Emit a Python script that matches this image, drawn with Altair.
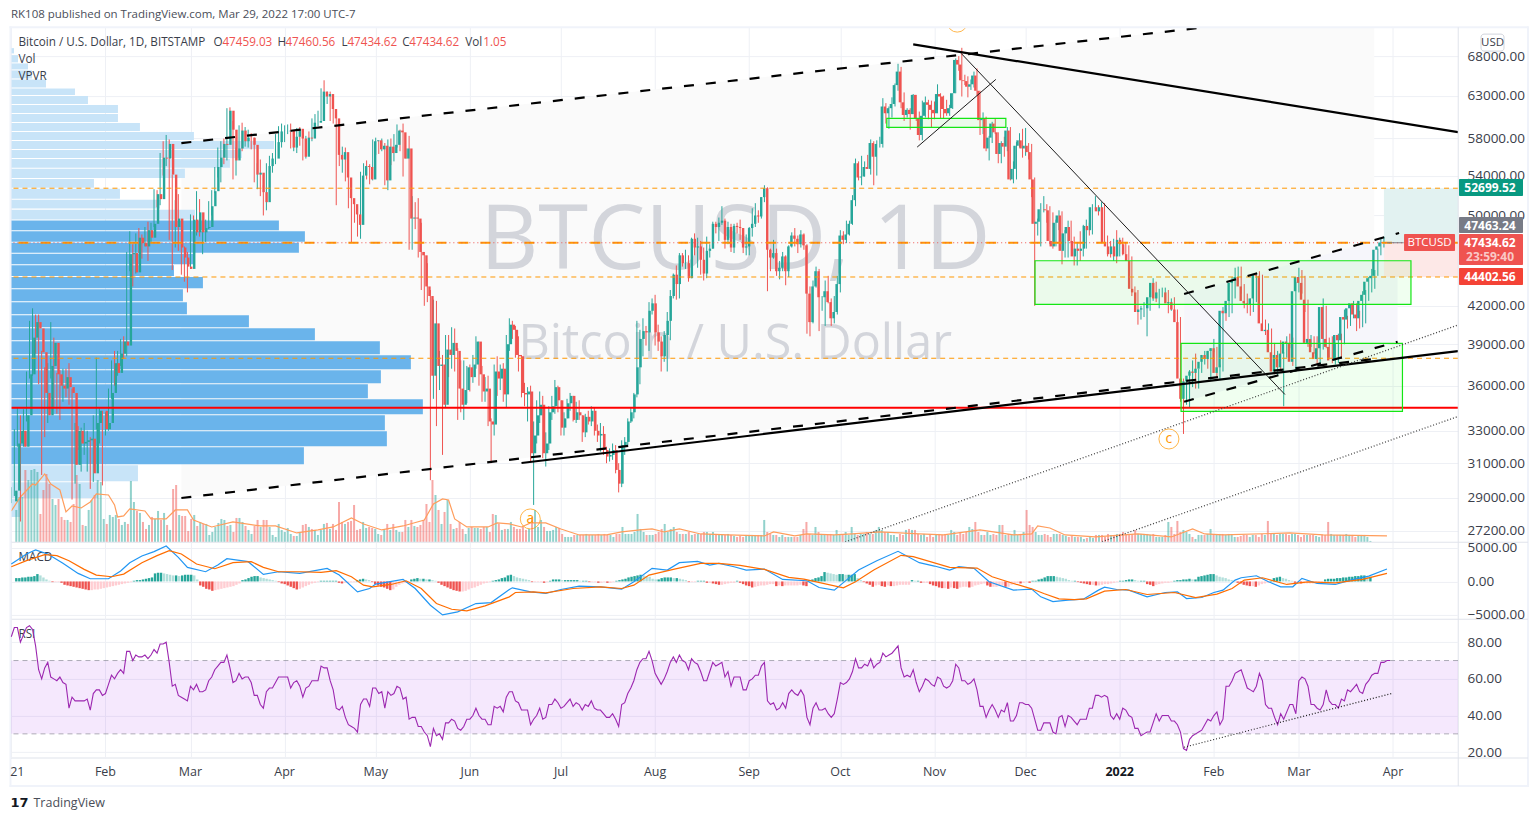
import altair as alt
import pandas as pd
FONT = "Open Sans"
# ---------- daily candles, in hundreds of dollars, one row per month ----------
closes_m = [
[294,322,330,320,340,368,395,407,402,384,355,340,374,391,368,360,358,366,359,355,309,330,322,323,324,325,304,335,343,343,331],
[335,355,376,369,383,392,389,464,465,448,479,474,471,486,479,492,521,516,559,558,574,541,489,497,470,461,453,451],
[496,484,503,484,488,489,509,524,549,559,574,573,612,590,556,569,589,577,581,581,573,541,543,523,513,550,558,558,576,588,588],
[588,589,570,582,591,580,560,581,580,598,598,600,635,629,632,614,603,562,557,565,538,517,511,501,491,540,550,549,536,577],
[578,568,572,535,571,564,573,589,587,558,569,497,498,497,466,463,436,428,367,406,374,375,347,386,382,391,385,358,347,357,373],
[366,375,392,368,356,358,336,334,370,365,372,354,390,405,401,382,381,355,354,356,316,327,340,347,316,322,342,346,359,350],
[332,338,348,353,337,342,340,329,339,336,343,330,327,328,318,314,315,318,306,298,321,323,336,342,354,373,394,400,399,416,422],
[399,392,381,397,408,428,446,438,463,456,456,443,478,470,471,459,447,467,469,492,489,493,495,477,489,470,490,489,488,470,471],
[488,492,500,499,518,527,468,461,465,449,452,462,449,471,481,478,473,482,472,430,407,436,449,427,427,432,423,410,415,438],
[481,477,482,492,515,553,538,539,549,547,575,560,574,574,617,609,615,620,643,660,622,607,613,608,631,603,584,606,622,619,613],
[609,632,629,614,609,615,633,675,669,649,648,641,644,655,636,601,603,569,581,597,587,563,575,571,589,536,547,572,578,569],
[572,565,536,492,494,506,506,505,476,471,493,500,467,483,489,476,462,469,467,469,490,486,508,508,504,508,475,471,464,471,462],
[477,473,464,458,434,431,415,417,418,418,427,439,426,431,431,431,422,423,417,407,365,351,363,367,370,369,372,377,382,379,385],
[387,369,373,416,414,424,439,441,444,436,424,422,421,426,446,445,406,400,401,384,370,382,373,383,392,391,377,432],
[444,439,425,391,394,384,379,387,419,394,388,378,378,397,393,411,409,418,422,413,410,424,429,440,443,445,468,471,474.59,474.35],
]
highs_m = [
[296,331,345,340,344,370,408,418,413,413,385,373,376,407,395,369,371,372,372,376,358,335,333,332,335,330,326,340,380,345,342],
[342,358,378,385,385,394,396,466,485,473,483,488,482,489,494,493,526,525,564,577,584,579,541,515,521,483,471,466],
[501,500,524,516,495,496,514,525,549,570,577,580,615,616,600,570,595,598,593,590,586,581,553,557,530,553,561,564,585,594,597],
[595,596,597,585,592,593,585,583,588,603,608,612,639,649,635,635,625,611,574,571,570,558,523,512,509,544,553,556,552,579],
[581,577,580,575,579,580,585,596,590,597,569,583,519,513,517,493,466,456,433,425,424,385,382,397,397,403,402,387,378,378,374],
[375,382,396,392,374,366,367,338,375,381,375,376,397,410,408,404,396,382,362,359,360,336,350,356,353,329,346,353,364,360],
[350,342,351,355,353,349,350,339,341,343,346,345,334,335,333,320,319,322,321,310,324,326,338,345,355,408,401,410,404,423,426],
[429,405,396,400,415,433,447,454,465,465,468,463,479,483,479,476,470,480,473,494,494,498,509,497,494,492,492,493,496,488,482],
[489,507,512,505,518,530,528,469,477,469,458,466,463,472,484,488,481,486,483,473,436,441,453,451,428,441,445,426,428,445],
[486,485,495,495,520,558,555,561,555,562,579,577,578,582,627,621,617,628,645,670,666,634,615,615,632,630,611,624,629,625,624],
[623,644,633,630,625,619,633,677,680,691,656,654,650,660,664,635,610,605,583,599,603,587,577,582,593,593,555,576,586,591],
[592,575,574,538,497,512,519,511,509,503,496,505,504,486,495,495,480,474,485,491,496,493,511,519,510,513,512,481,476,478,486],
[479,479,475,472,462,436,433,420,423,422,431,443,440,434,435,435,433,426,427,413,411,365,365,371,378,383,372,378,385,385,387],
[394,388,375,419,418,425,444,452,453,453,438,430,426,432,447,449,446,409,406,402,391,385,393,384,396,398,395,440],
[452,450,445,423,397,396,396,391,426,420,395,396,391,398,398,417,412,421,424,422,416,432,433,444,451,450,469,478,480,474.6],
]
lows_m = [
[287,291,320,277,330,336,365,367,383,361,303,326,335,365,345,341,337,349,352,347,289,298,318,305,315,305,295,299,331,322,297],
[327,330,351,360,367,374,379,381,449,436,447,465,460,475,458,474,489,508,510,540,550,477,450,470,467,446,440,431],
[451,471,481,480,464,475,487,500,522,538,533,552,556,590,536,540,559,566,571,570,568,533,526,519,500,505,542,543,552,574,570],
[576,585,569,566,564,572,556,558,574,577,590,594,600,615,620,600,597,510,550,543,534,507,474,493,480,478,534,536,531,535],
[562,563,566,530,525,551,555,570,566,539,559,468,468,487,461,433,420,423,300,351,333,357,315,345,366,372,370,337,342,337,348],
[356,362,372,360,349,349,333,310,327,353,357,349,345,385,394,380,370,352,346,336,311,286,322,335,313,308,318,337,341,342],
[327,327,338,343,336,335,337,323,326,334,333,327,323,317,315,310,311,312,304,293,296,315,321,335,338,352,361,381,389,385,413],
[389,385,370,377,370,393,426,425,426,453,451,440,443,463,452,446,441,443,461,469,483,476,491,469,473,466,465,483,477,465,463],
[463,480,489,493,497,513,432,449,460,445,442,449,437,444,470,471,465,470,468,398,396,406,435,400,416,404,422,404,406,413],
[431,473,474,481,491,509,535,530,539,547,541,530,540,570,570,597,591,604,617,636,615,600,604,590,608,600,578,578,604,602,592],
[602,612,603,603,606,606,614,633,661,629,643,628,637,640,630,584,585,566,556,575,585,553,553,560,566,535,532,536,570,559],
[561,557,518,420,481,471,503,493,473,469,472,486,455,461,461,474,454,454,458,462,469,481,482,506,500,500,472,462,461,458,456],
[462,463,459,454,428,422,405,409,411,396,416,424,423,418,427,426,414,416,411,385,349,328,347,345,359,358,358,369,375,372,364],
[384,366,364,370,408,411,414,426,438,430,418,414,412,415,423,437,402,397,397,380,368,367,370,346,380,387,374,370],
[431,430,415,388,388,383,375,375,386,387,380,376,375,376,379,390,402,404,410,400,402,403,406,424,431,434,445,463,470,474.3],
]
first_open = 288
volumes = [32,45,45,72,62,72,73,70,28,52,68,58,43,37,43,25,22,22,20,38,67,58,17,16,32,42,47,62,60,23,18,27,25,27,23,17,20,18,61,40,31,29,20,13,17,25,23,31,22,29,17,12,53,57,27,26,26,11,23,27,16,20,18,18,7,10,15,19,23,22,16,17,10,24,24,20,16,12,8,16,22,15,22,22,15,7,5,18,12,10,14,8,6,6,10,17,18,15,13,12,7,12,18,19,13,18,12,40,20,18,20,21,37,12,13,20,14,15,14,13,8,7,12,18,12,18,12,10,10,22,15,22,16,15,17,22,38,20,62,47,32,18,30,42,18,13,14,20,13,8,14,15,14,14,13,15,15,10,28,27,18,12,13,13,20,
15,13,13,15,12,13,25,32,15,22,15,11,11,12,15,14,8,5,5,5,7,7,7,7,8,7,7,7,8,7,8,7,7,5,8,8,15,8,8,8,10,28,13,10,7,7,7,8,10,13,18,10,13,15,10,8,8,8,10,7,8,8,8,10,10,8,10,8,7,7,7,8,7,6,5,6,5,7,7,7,7,7,7,22,10,8,7,7,5,7,5,5,5,5,5,7,13,20,8,7,15,10,8,7,7,8,7,12,8,7,10,7,15,8,7,8,8,10,8,8,12,15,12,10,10,7,7,5,8,7,12,13,12,12,8,7,8,5,8,5,7,8,7,8,7,12,10,7,10,8,10,15,13,20,10,7,7,10,7,8,7,17,
17,7,8,7,12,7,8,10,32,17,15,10,7,7,8,7,5,8,8,8,7,6,5,6,5,5,5,3,4,5,4,7,7,7,5,8,7,7,8,8,10,8,8,8,12,8,8,8,8,7,8,5,5,5,7,20,15,8,21,10,12,10,8,5,3,7,7,7,8,13,7,7,8,8,7,8,7,5,5,6,7,7,5,7,7,5,8,7,21,8,8,7,8,8,8,7,8,8,7,5,7,7,7,7,6,5,7,7,20,8,7,7,7,7,8,7,7,5,6,7,7,5,1]
volma_days = [0,3,7,8,11,13,16,18,20,23,26,28,32,34,35,37,39,44,46,51,54,58,60,66,73,82,87,94,101,106,112,116,122,129,136,139,142,144,146,150,157,160,164,168,171,176,181,187,196,201,207,211,215,220,227,236,248,251,258,262,271,277,286,299,307,319,330,336,338,342,347,357,371,382,389,393,399,421,432,453]
volma_vals = [31,45,58,57,68,58,52,30,36,34,40,48,47,37,25,26,33,31,23,23,32,32,22,15,20,16,16,9,12,15,24,18,12,16,22,38,43,42,23,15,15,19,18,15,19,19,13,7,7,10,12,13,10,13,8,7,6,10,6,8,7,8,10,8,7,12,7,8,16,14,7,5,8,5,13,8,7,9,7,6]
# ---------- volume profile: band edges (dollars) and length ----------
vp_hi = [69058,68131,67049,66150,65011,63893,62950,61867,60803,59757,58733,57722,56729,55755,54721,53644,52655,51550,50566,49510,48491,47445,46450,45414,44400,43360,42288,41242,40220,39225,38181,37093,36103,35072,34005,32971,31970,30880,29884,28925]
vp_lo = [68355,67179,66277,65136,64015,63072,61986,60920,59872,58846,57833,56838,55861,54825,53748,52755,51650,50666,49605,48585,47535,46538,45500,44484,43442,42370,41322,40298,39302,38253,37164,36172,35140,34072,33034,32030,30940,29942,28980,27945]
vp_len = [3,7,17,21,35,64,77,107,107,129,183,263,231,219,174,83,109,149,184,268,294,288,183,163,192,172,176,238,304,369,400,370,357,412,374,376,293,127,87,9]
vp_value_area = [0]*19 + [1]*18 + [0]*3
# ---------- MACD ----------
macd_d = [0,5,8,12,17,22,26,32,36,39,43,47,51,55,58,64,68,71,78,83,88,95,104,108,114,118,120,129,133,138,142,147,153,158,164,165,171,176,181,187,194,201,205,211,216,220,226,230,233,238,242,248,254,262,266,271,275,279,285,292,299,304,309,312,317,322,330,336,339,343,348,353,358,360,364,368,374,380,384,387,392,396,399,403,405,410,414,418,422,425,430,436,441,447,453]
macd_v = [2600,4100,4700,4100,2700,1200,400,400,1550,2800,3800,4450,5300,3600,2100,1450,2450,3400,2950,1050,1450,1200,1950,950,-1550,-1050,-400,300,-1050,-3550,-5000,-4550,-3300,-3150,-1200,-950,-1550,-1800,-1200,-700,-800,-1150,-50,1950,1700,2800,3000,2450,2700,2200,1700,1850,300,100,-900,-1300,200,1700,3100,4500,2800,2300,1700,2200,1950,-50,-1300,-1150,-2300,-3000,-2800,-2650,-1300,-850,-1200,-1300,-2300,-1650,-1550,-2550,-2400,-1650,-1300,200,550,850,-50,-800,-800,450,-300,-450,200,800,1850]
signal_d = [0,5,11,15,19,24,28,33,37,43,48,52,56,61,67,73,79,83,88,95,102,107,112,116,119,125,130,135,140,145,150,156,164,166,172,176,185,194,201,205,210,218,227,233,240,248,256,261,274,278,284,293,297,309,318,323,330,336,340,345,350,354,360,367,374,383,390,397,402,406,412,420,427,436,445,453]
signal_v = [2200,3100,4000,3850,3100,1800,950,700,1100,2800,3850,4600,4100,2600,1900,2800,2950,2100,1450,1450,1350,1600,700,-550,-800,-450,100,-1050,-3300,-4150,-4400,-3650,-2300,-1650,-1550,-1700,-1050,-800,-1050,-550,950,1800,2700,2700,2400,1800,600,350,-950,-50,1700,3900,3700,2100,2000,700,-300,-1100,-1800,-2600,-2700,-2600,-1450,-1200,-1950,-1650,-2400,-1900,-1050,200,550,-450,-50,-200,300,1200]
hist_h = [5,5,6,6,7,7,8,11,9,6,3,1,-1,-1,-1,-2,-5,-6,-7,-8,-9,-10,-11,-12,-13,-13,-12,-12,-11,-10,-9,-8,-7,-6,-5,-4,-3,-2,-1,1,2,2,3,4,5,6,12,13,13,12,11,10,9,9,8,9,10,10,10,9,3,-6,-8,-11,-12,-14,-13,-12,-11,-10,-9,-8,-7,-5,-3,2,3,5,7,8,8,6,5,4,3,2,1,-1,-3,-4,-6,-8,-10,-12,-11,-9,-7,-5,-3,-2,-1,1,1,1,1,1,1,-2,-3,-2,-2,-1,-1,2,3,4,3,2,-1,-4,-6,-8,-9,-11,-13,-12,-8,-5,-3,-2,-2,3,4,5,4,4,3,3,2,1,
-2,-5,-7,-9,-11,-13,-14,-15,-15,-14,-12,-10,-9,-7,-5,-3,-2,-1,1,2,3,5,6,9,10,8,6,5,4,3,2,-1,-1,-1,-1,-2,-1,1,3,3,3,2,2,2,2,2,2,1,1,1,-1,-1,-1,-2,-2,-1,-2,-2,-1,1,2,3,4,6,7,8,9,10,9,8,7,4,3,3,5,6,6,6,5,5,4,3,2,-1,-1,-1,1,1,1,-2,-2,-3,-4,-5,-5,-4,-3,-2,-2,1,-2,-4,-6,-7,-9,-8,-7,-6,-6,-5,-4,-4,-7,-6,-7,-6,-6,-6,-6,-6,-5,-6,-7,2,3,5,6,8,14,13,12,11,10,11,11,10,10,10,11,5,2,-1,-3,-5,-8,-6,-5,-7,-8,-6,-7,-7,-6,-5,-5,-5,-5,2,1,1,-2,-2,-2,-4,-6,-7,-9,-10,-10,-11,-9,-10,-11,-9,-8,
-8,-9,-8,-6,-5,-4,-3,-6,-8,-8,-8,-7,-6,-8,-8,-5,-4,-2,-3,-2,-1,-2,1,1,3,4,6,8,8,8,7,6,5,4,2,1,1,-1,-2,-3,-4,-5,-5,-6,-6,-5,-4,-4,-3,-2,-1,1,1,2,3,3,2,1,1,1,-4,-5,-7,-5,-4,-3,-2,-2,-1,1,2,2,3,3,4,3,3,7,8,9,10,11,11,9,7,6,5,3,2,1,-2,-3,-5,-6,-7,-7,-8,-6,-4,-3,-2,1,5,6,7,5,4,2,1,-2,-2,-3,-3,-3,-3,-3,-2,-2,-1,3,4,4,4,5,5,6,6,7,7,8,8,9,9,7,7]
# ---------- RSI ----------
rsi = [83,88,88,80,84,88,89,87,78,65,60,66,69,61,60,59,61,58,57,44,50,48,48,48,48,49,43,52,54,54,51,52,57,62,60,63,65,63,75,75,70,73,72,72,73,71,73,76,74,79,79,80,69,56,57,51,50,49,48,56,54,57,53,53,54,59,61,65,67,69,69,73,66,58,59,63,60,61,61,58,51,51,46,44,53,55,55,58,61,61,61,61,55,58,59,56,50,55,56,59,59,59,67,66,66,59,54,44,43,45,39,35,34,33,31,46,49,49,45,55,55,52,53,44,53,51,52,56,55,49,50,38,39,39,34,34,31,29,23,33,29,30,27,36,36,38,37,33,32,34,38,38,40,44,40,38,38,35,35,45,44,45,42,50,53,
53,48,47,43,43,43,35,38,40,44,38,39,46,46,49,47,44,45,47,49,45,47,46,43,46,45,48,44,43,43,41,39,39,41,38,34,46,47,52,55,59,65,69,71,71,75,70,63,60,57,60,64,69,72,69,73,70,69,65,71,69,68,64,59,59,64,69,67,68,69,61,64,56,61,61,61,54,54,59,60,62,62,67,69,48,46,47,43,44,47,44,52,54,52,51,54,51,39,35,44,47,43,43,44,41,39,41,49,58,57,58,60,64,71,66,66,68,67,71,66,68,69,74,72,73,74,76,78,66,61,62,61,65,58,53,56,60,59,57,56,61,60,56,55,56,59,68,66,59,59,57,58,60,54,45,45,39,43,46,43,39,43,42,47,37,
37,40,47,47,46,46,44,38,32,32,36,36,36,31,30,39,40,34,40,39,37,35,38,38,38,44,44,51,51,50,51,50,40,38,41,38,44,43,40,39,33,33,29,30,31,31,36,41,37,40,40,40,37,37,35,31,22,21,27,29,30,31,32,35,38,37,40,42,35,38,56,56,59,63,64,65,60,55,54,53,56,63,59,46,44,44,39,35,41,38,42,46,46,41,59,61,60,56,46,46,44,43,46,54,48,46,46,44,49,48,54,53,55,57,53,52,57,59,62,63,63,69,69,70,70]
# ---------- axes ----------
month_ticks = [0,31,59,90,120,151,181,212,243,273,304,334,365,396,424,455]
month_labels = ["21","Feb","Mar","Apr","May","Jun","Jul","Aug","Sep","Oct","Nov","Dec","2022","Feb","Mar","Apr"]
price_ticks = [27200,29000,31000,33000,36000,39000,42000,46000,50000,54000,58000,63000,68000]
macd_ticks = [-5000,0,5000]
rsi_ticks = [20,40,60,80]
# ---------- price levels ----------
thin_levels = [52699.52,44402.56,37958]
last_price = 47434.62
support = 34505
# ---------- drawings: (day, price) end points ----------
dashed_lines = [(56.0,57492,390.5,71775),(56.0,28987,448.8,37905),(386.2,34906,456.5,39190),(386.2,42970,457.0,48334)]
thick_lines = [(168.0,31013,476.4,38489),(297.0,69552,476.4,58726)]
thin_lines = [(312.8,68355,419.4,35394),(298.3,57052,324.2,65011)]
dotted_lines = [(274.6,26628,476.4,40474),(359.2,26642,476.4,33924)]
green_boxes = [(288.3,327.5,60300,59262),(337.1,460.9,45817,42119),(385.2,458.1,39063,34265)]
wave_marks = [(170.9,27838,"a"),(381.2,32483,"c"),(311.5,72610,"b")]

# ---------- tables ----------
rows = []
for m,(c,h,l) in enumerate(zip(closes_m,highs_m,lows_m)):
    assert len(c)==len(h)==len(l), (m,len(c),len(h),len(l))
    for a,b,e in zip(c,h,l):
        rows.append((a,b,e))
candles = pd.DataFrame(rows,columns=["c","h","l"])*100
candles["d"] = range(len(candles))
candles["o"] = candles["c"].shift(1).fillna(first_open*100)
candles["h"] = candles[["h","o","c"]].max(axis=1)
candles["l"] = candles[["l","o","c"]].min(axis=1)
UP,DN = "#26a69a","#ef5350"
candles["col"] = [UP if c>=o else DN for c,o in zip(candles.c,candles.o)]
vol = pd.DataFrame({"v":volumes[:len(candles)]})
vol["d"] = range(len(vol)); vol["col"] = candles["col"][:len(vol)].values
volma = pd.DataFrame({"d":volma_days,"v":volma_vals})
vp = pd.DataFrame({"hi":vp_hi,"lo":vp_lo,"x0":0,"len":vp_len,
                   "col":["#62b0ea" if a else "#c5e3f8" for a in vp_value_area]})
hist = pd.DataFrame({"v":[h*100 for h in hist_h]}); hist["d"]=range(len(hist))
prev = hist.v.shift(1).fillna(0)
hist["col"] = ["#26a69a" if v>=0 and v>=p else "#b2dfdb" if v>=0 else "#ef5350" if v<p else "#ffcdd2" for v,p in zip(hist.v,prev)]
hist["z"]=0
rsi_df = pd.DataFrame({"d":range(len(rsi)),"v":rsi})
def seg_df(segs):
    return pd.DataFrame([{"s":i,"d":a,"p":b} for i,(x1,y1,x2,y2) in enumerate(segs) for a,b in ((x1,y1),(x2,y2))])

# ---------- scales ----------
W = 1447.5
X_DOM = [-0.1,476.4]
XS = alt.Scale(domain=X_DOM,nice=False,zero=False)
PS = alt.Scale(type="log",domain=[26629,71912],nice=False)
def X(f): return alt.X(f,type="quantitative",scale=XS,axis=None)
def P(f): return alt.Y(f,type="quantitative",scale=PS,axis=None)
def PX(f): return alt.X(f,type="quantitative",scale=None,axis=None)
def PY(f): return alt.Y(f,type="quantitative",scale=None,axis=None)
COL = alt.Color("col:N",scale=None,legend=None)
GRID = "#eef0f5"
def grid_x():
    return alt.Axis(values=month_ticks,labels=False,ticks=False,domain=False,title=None,grid=True,gridColor=GRID,gridWidth=1)
def y_axis(vals,expr):
    return alt.Axis(values=vals,orient="right",title=None,ticks=False,domain=False,grid=True,gridColor=GRID,gridWidth=1,
                    labelFont=FONT,labelFontSize=13.5,labelColor="#3a3e4a",labelPadding=9,labelExpr=expr,labelOverlap=False,labelBound=False,labelFlush=False)
F2 = "format(datum.value,'.2f')"

def page_rects(items,ox,oy):
    return pd.DataFrame([{"x":a-ox,"x2":b-ox,"y":c-oy,"y2":d-oy,"col":e} for a,b,c,d,e in items])
def page_texts(items,ox,oy):
    return pd.DataFrame([{"x":a-ox,"y":b-oy,"t":t,"col":c} for a,b,t,c in items])
def rect_layer(df,**kw):
    return alt.Chart(df).mark_rect(**kw).encode(x=PX("x"),x2="x2",y=PY("y"),y2="y2",color=COL)
def text_layer(df,align="left",size=12.5,**kw):
    return alt.Chart(df).mark_text(align=align,baseline="middle",font=FONT,fontSize=size,**kw).encode(x=PX("x"),y=PY("y"),text="t:N",color=COL)

OX = 10.5
# ---------- header ----------
header = text_layer(page_texts([(10.5,15,"RK108 published on TradingView.com, Mar 29, 2022 17:00 UTC-7","#4a4e59")],OX,8),size=11.5).properties(width=W,height=19)

# ---------- main panel ----------
base = alt.Chart(pd.DataFrame({"d":[0],"p":[50000]})).mark_point(opacity=0).encode(
    x=alt.X("d:Q",scale=XS,axis=grid_x()),
    y=alt.Y("p:Q",scale=PS,axis=y_axis(price_ticks,"datum.value==46000?'':"+F2)))
fill1 = alt.Chart(pd.DataFrame({"d":[56.0,448.8],"a":[57492,74620],"b":[28987,37905]})).mark_area(color="#fafafa",clip=True).encode(x=X("d"),y=P("a"),y2="b")
fill2 = alt.Chart(pd.DataFrame({"d":[386.2,456.5],"a":[42970,48200],"b":[34906,39190]})).mark_area(color="#f6f6fb",clip=True).encode(x=X("d"),y=P("a"),y2="b")
pos = pd.DataFrame({"a":[452,452],"b":[476.4,476.4],"hi":[52699.52,last_price],"lo":[last_price,44402.56],"col":["#e2f2f1","#fde8e7"]})
pos_l = alt.Chart(pos).mark_rect().encode(x=X("a"),x2="b",y=P("hi"),y2="lo",color=COL)
wm = pd.DataFrame({"d":[238.4,238.4],"p":[47470,38992],"t":["BTCUSD, 1D","Bitcoin / U.S. Dollar"]})
wm1 = alt.Chart(wm.iloc[[0]]).mark_text(font=FONT,fontSize=90.5,color="#d3d5db",baseline="middle").encode(x=X("d"),y=P("p"),text="t:N")
wm2 = alt.Chart(wm.iloc[[1]]).mark_text(font=FONT,fontSize=48.5,color="#d3d5db",baseline="middle").encode(x=X("d"),y=P("p"),text="t:N")
vp_l = alt.Chart(vp).mark_rect(opacity=0.95).encode(
    x=alt.X("x0:Q",scale=alt.Scale(domain=[0,W],nice=False),axis=None),x2="len",y=P("hi"),y2="lo",color=COL)
VS = alt.Scale(domain=[0,515],nice=False)
vol_l = alt.Chart(vol).mark_bar(size=2,opacity=0.5).encode(x=X("d"),y=alt.Y("v:Q",scale=VS,axis=None),color=COL)
volma_l = alt.Chart(volma).mark_line(color="#ff9d5c",strokeWidth=1.2).encode(x=X("d"),y=alt.Y("v:Q",scale=VS,axis=None))
wick = alt.Chart(candles).mark_rule(strokeWidth=1).encode(x=X("d"),y=P("l"),y2="h",color=COL)
body = alt.Chart(candles).mark_bar(size=2.4).encode(x=X("d"),y=P("o"),y2="c",color=COL)
def lines(segs,**kw):
    return alt.Chart(seg_df(segs)).mark_line(clip=True,**kw).encode(x=X("d"),y=P("p"),detail="s:N")
lvl_thin = alt.Chart(pd.DataFrame({"p":thin_levels})).mark_rule(color="#ff9800",strokeWidth=1,strokeDash=[5,4]).encode(y=P("p"))
lvl_last = alt.Chart(pd.DataFrame({"p":[last_price]})).mark_rule(color="#ff9800",strokeWidth=2,strokeDash=[10,12]).encode(y=P("p"))
lvl_dot = alt.Chart(pd.DataFrame({"p":[last_price]})).mark_rule(color="#ef5350",strokeWidth=1,strokeDash=[1,3]).encode(y=P("p"))
lvl_red = alt.Chart(pd.DataFrame({"p":[support]})).mark_rule(color="#ff0000",strokeWidth=2).encode(y=P("p"))
last_ln = alt.Chart(pd.DataFrame({"a":[453],"b":[458.5],"p":[last_price]})).mark_rule(color="#787b86",strokeWidth=1).encode(x=X("a"),x2="b",y=P("p"))
boxes = alt.Chart(pd.DataFrame(green_boxes,columns=["a","b","hi","lo"])).mark_rect(fill="#00ff00",fillOpacity=0.06,stroke="#14e614",strokeWidth=1.2).encode(x=X("a"),x2="b",y=P("hi"),y2="lo")
wdf = pd.DataFrame(wave_marks,columns=["d","p","t"])
wave_c = alt.Chart(wdf).mark_point(shape="circle",size=400,filled=False,stroke="#ff9800",strokeWidth=1,clip=True).encode(x=X("d"),y=P("p"))
wave_t = alt.Chart(wdf).mark_text(font=FONT,fontSize=14,color="#ff9800",clip=True,baseline="middle").encode(x=X("d"),y=P("p"),text="t:N")

frame = page_rects([
    (9,1528,26,28,"#f0f3fa"),(9,11,26,787,"#f0f3fa"),(1527,1529,26,787,"#f0f3fa"),(9,1529,785,787,"#f0f3fa"),
    (10.5,1528,541.7,542.7,"#e0e3eb"),(10.5,1528,618.7,619.7,"#e0e3eb"),(10.5,1528,757.7,758.7,"#e0e3eb"),(1457.7,1458.7,27,786,"#e0e3eb"),
],OX,27)
tags = page_rects([
    (1459,1523,179,196,"#089981"),(1459,1523,217,233,"#787b86"),(1459,1523,234,265,"#ef5350"),(1459,1523,268,285,"#f44336"),(1404,1455,234,251,"#ef5350")
],OX,27)
usd = pd.DataFrame({"x":[1481-OX],"x2":[1504-OX],"y":[34-27],"y2":[51-27]})
usd_r = alt.Chart(usd).mark_rect(fill="#ffffff",fillOpacity=0.85,stroke="#d1d4dc",cornerRadius=3).encode(x=PX("x"),x2="x2",y=PY("y"),y2="y2")
tag_t = text_layer(page_texts([
    (1490,187.5,"52699.52","#ffffff"),(1490,225.5,"47463.24","#ffffff"),(1490,242.5,"47434.62","#ffffff"),(1490,257,"23:59:40","#f9c9c7"),
    (1490,276.5,"44402.56","#ffffff")],OX,27),align="center",size=12,fontWeight="bold")
tag_n = text_layer(page_texts([(1429.5,242.5,"BTCUSD","#ffffff"),(1492.5,42.5,"USD","#3a3e4a")],OX,27),align="center",size=11.5)
SERIES_TXT = "#3a3e4a"; RED = "#ef5350"
legend_t = text_layer(page_texts([
    (18,42,"Bitcoin / U.S. Dollar, 1D, BITSTAMP",SERIES_TXT),(213,42,"O",SERIES_TXT),(222,42,"47459.03",RED),
    (277,42,"H",SERIES_TXT),(285,42,"47460.56",RED),(341,42,"L",SERIES_TXT),(347,42,"47434.62",RED),
    (402,42,"C",SERIES_TXT),(409,42,"47434.62",RED),(465,42,"Vol",SERIES_TXT),(483,42,"1.05",RED),
    (18,59,"Vol",SERIES_TXT),(18,76,"VPVR",SERIES_TXT),(18,557,"MACD",SERIES_TXT),(18,634,"RSI",SERIES_TXT)],OX,27),size=11.7)

main = alt.layer(base,fill1,fill2,pos_l,wm1,wm2,vp_l,vol_l,volma_l,wick,body,
    lvl_thin,lvl_last,lvl_dot,lvl_red,last_ln,boxes,
    lines(dashed_lines,color="#000000",strokeWidth=2.2,strokeDash=[10,12]),
    lines(thick_lines,color="#000000",strokeWidth=2.2),
    lines(thin_lines,color="#1a1a1a",strokeWidth=1),
    lines(dotted_lines,color="#444444",strokeWidth=1.3,strokeDash=[1,2]),
    wave_c,wave_t,rect_layer(frame),rect_layer(tags,cornerRadius=1),usd_r,tag_t,tag_n,legend_t
).resolve_scale(x="independent",y="independent").properties(width=W,height=515)

# ---------- MACD panel ----------
MS = alt.Scale(domain=[-5597,5896],nice=False,zero=False)
def M(f): return alt.Y(f,type="quantitative",scale=MS,axis=None)
m_base = alt.Chart(pd.DataFrame({"d":[0],"v":[0]})).mark_point(opacity=0).encode(
    x=alt.X("d:Q",scale=XS,axis=grid_x()),y=alt.Y("v:Q",scale=MS,axis=y_axis(macd_ticks,F2)))
m_hist = alt.Chart(hist).mark_bar(size=2.4).encode(x=X("d"),y=M("v"),y2="z",color=COL)
m_line = alt.Chart(pd.DataFrame({"d":macd_d,"v":macd_v})).mark_line(color="#2196f3",strokeWidth=1.2).encode(x=X("d"),y=M("v"))
m_sig = alt.Chart(pd.DataFrame({"d":signal_d,"v":signal_v})).mark_line(color="#ff6d00",strokeWidth=1.2).encode(x=X("d"),y=M("v"))
macd = alt.layer(m_base,m_hist,m_line,m_sig).resolve_scale(x="independent",y="independent").properties(width=W,height=77)

# ---------- RSI panel ----------
RS = alt.Scale(domain=[16.9,92.7],nice=False,zero=False)
def R(f): return alt.Y(f,type="quantitative",scale=RS,axis=None)
r_base = alt.Chart(pd.DataFrame({"d":[0],"v":[50]})).mark_point(opacity=0).encode(
    x=alt.X("d:Q",scale=XS,axis=grid_x()),y=alt.Y("v:Q",scale=RS,axis=y_axis(rsi_ticks,F2)))
r_band = alt.Chart(pd.DataFrame({"a":[70],"b":[30]})).mark_rect(color="#a020f0",opacity=0.1).encode(y=R("a"),y2="b")
r_lim = alt.Chart(pd.DataFrame({"v":[70,30]})).mark_rule(color="#787b86",opacity=0.6,strokeDash=[5,4]).encode(y=R("v"))
r_line = alt.Chart(rsi_df).mark_line(color="#9c27b0",strokeWidth=1.1).encode(x=X("d"),y=R("v"))
r_trend = alt.Chart(pd.DataFrame({"d":[386.2,455.0],"v":[22.7,52.2]})).mark_line(color="#1a1a1a",strokeWidth=1.2,strokeDash=[1,2]).encode(x=X("d"),y=R("v"))
rsi_panel = alt.layer(r_base,r_band,r_lim,r_line,r_trend).resolve_scale(x="independent",y="independent").properties(width=W,height=139)

# ---------- footer: time axis and logo ----------
tl = pd.DataFrame({"d":month_ticks,"t":month_labels})
tl.loc[tl.t=="21","d"] = 2.0
tl["y"] = 14
tl_n = alt.Chart(tl[tl.t!="2022"]).mark_text(font=FONT,fontSize=12.5,color="#3a3e4a",baseline="middle").encode(x=X("d"),y=PY("y"),text="t:N")
tl_b = alt.Chart(tl[tl.t=="2022"]).mark_text(font=FONT,fontSize=12.5,fontWeight="bold",color="#131722",baseline="middle").encode(x=X("d"),y=PY("y"),text="t:N")
logo = alt.Chart(pd.DataFrame({"x":[10-OX],"y":[803-758],"t":["17"]})).mark_text(font="DejaVu Sans",fontWeight="bold",fontSize=13,align="left",baseline="middle",color="#131722").encode(x=PX("x"),y=PY("y"),text="t:N")
brand = text_layer(page_texts([(33,803,"TradingView","#4a4e59")],OX,758),size=12.5)
footer = alt.layer(tl_n,tl_b,logo,brand).properties(width=W,height=52)

chart = alt.vconcat(header,main,macd,rsi_panel,footer,spacing=0,bounds="flush").properties(
    padding={"left":0,"top":0,"right":0,"bottom":0},background="#ffffff"
).configure_view(stroke=None)
chart.save("out.html",embed_options={"renderer":"svg","actions":False})
